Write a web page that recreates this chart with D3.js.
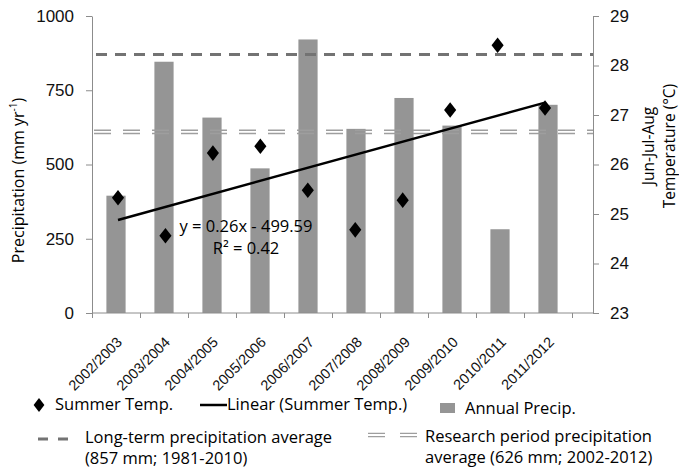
<!DOCTYPE html>
<html>
<head>
<meta charset="utf-8">
<script src="https://cdn.jsdelivr.net/npm/d3@7"></script>
<style>
  body { margin: 0; background: #fff; }
  svg { font-family: "Open Sans", Lato, sans-serif; }
  .axis path, .axis line { stroke: #8c8c8c; }
  .axis text { fill: #111; }
</style>
</head>
<body>
<div id="chart"></div>
<script>
// seasons on the category axis
const seasons = ["2002/2003", "2003/2004", "2004/2005", "2005/2006", "2006/2007",
  "2007/2008", "2008/2009", "2009/2010", "2010/2011", "2011/2012"];
// annual precipitation, mm (bars)
const annualPrecip = [395, 846, 658, 487, 921, 620, 724, 631, 282, 701];
// Jun-Jul-Aug mean temperature, °C (diamonds)
const summerTemp = [25.33, 24.56, 26.23, 26.37, 25.48, 24.68, 25.28, 27.10, 28.41, 27.14];
// linear trend end points as drawn (first and last season)
const trendTemp = [24.88, 27.25];
// reference lines, mm (as drawn)
const longTermAvg = 870;
const researchAvg = 610;
const precipTicks = [0, 250, 500, 750, 1000];
const tempTicks = [23, 24, 25, 26, 27, 28, 29];

const width = 679, height = 471;
const margin = { top: 16, left: 92, bottom: 158 };
const plotRight = 593;   // secondary axis position
const catRight = 572;    // end of category axis
const plotBottom = height - margin.bottom; // 313

const svg = d3.select("#chart").append("svg")
  .attr("width", width)
  .attr("height", height);

// scales
const x = d3.scaleBand()
  .domain(seasons)
  .range([margin.left, catRight])
  .paddingInner(0.6)
  .paddingOuter(0.3);

const xEdge = d3.scaleLinear()
  .domain([0, seasons.length])
  .range([margin.left, catRight]);

const yP = d3.scaleLinear().domain([0, 1000]).range([plotBottom, margin.top]);
const yT = d3.scaleLinear().domain([23, 29]).range([plotBottom, margin.top]);

const cx = d => x(d) + x.bandwidth() / 2;

// bars
svg.append("g")
  .selectAll("rect")
  .data(seasons)
  .join("rect")
  .attr("x", d => x(d))
  .attr("width", x.bandwidth())
  .attr("y", (d, i) => yP(annualPrecip[i]))
  .attr("height", (d, i) => plotBottom - yP(annualPrecip[i]))
  .attr("fill", "#959595");

// long-term average (dashed)
svg.append("line")
  .attr("x1", margin.left).attr("x2", plotRight)
  .attr("y1", yP(longTermAvg)).attr("y2", yP(longTermAvg))
  .attr("stroke", "#737373")
  .attr("stroke-width", 3)
  .attr("stroke-dasharray", "11,8")
  .attr("stroke-dashoffset", -4);

// research period average (double dashed)
[-1.6, 1.6].forEach(off => {
  svg.append("line")
    .attr("x1", margin.left).attr("x2", plotRight)
    .attr("y1", yP(researchAvg) + off).attr("y2", yP(researchAvg) + off)
    .attr("stroke", "#9e9e9e")
    .attr("stroke-width", 1.4)
    .attr("stroke-dasharray", "17,12")
    .attr("stroke-dashoffset", -2);
});

// axes
const leftAxis = svg.append("g")
  .attr("class", "axis")
  .attr("transform", `translate(${margin.left},0)`)
  .call(d3.axisLeft(yP).tickValues(precipTicks).tickFormat(d3.format("d"))
    .tickSize(6).tickPadding(12).tickSizeOuter(0));
leftAxis.selectAll("text").style("font-size", "17px");

const rightAxis = svg.append("g")
  .attr("class", "axis")
  .attr("transform", `translate(${plotRight},0)`)
  .call(d3.axisRight(yT).tickValues(tempTicks).tickFormat(d3.format("d"))
    .tickSize(6).tickPadding(11).tickSizeOuter(0));
rightAxis.selectAll("text").style("font-size", "17px");

// bottom axis line across the whole plot
svg.append("line")
  .attr("x1", margin.left).attr("x2", plotRight)
  .attr("y1", plotBottom).attr("y2", plotBottom)
  .attr("stroke", "#8c8c8c");

// category boundary ticks
svg.append("g")
  .attr("class", "axis")
  .attr("transform", `translate(0,${plotBottom})`)
  .call(d3.axisBottom(xEdge).tickValues(d3.range(seasons.length + 1)).tickSize(5).tickFormat("").tickSizeOuter(0))
  .select(".domain").remove();

// category labels
const xAxis = svg.append("g")
  .attr("class", "axis")
  .attr("transform", `translate(0,${plotBottom})`)
  .call(d3.axisBottom(x).tickSize(0).tickPadding(0));
xAxis.select(".domain").remove();
xAxis.selectAll("text")
  .style("font-size", "14.5px")
  .attr("text-anchor", "end")
  .attr("y", 0)
  .attr("dy", 0)
  .attr("transform", "translate(7,30) rotate(-45)");

// trend line
const first = seasons[0], last = seasons[seasons.length - 1];
svg.append("line")
  .attr("x1", cx(first) + 2).attr("y1", yT(trendTemp[0]))
  .attr("x2", cx(last) - 3).attr("y2", yT(trendTemp[1]))
  .attr("stroke", "#000")
  .attr("stroke-width", 2.5);

// diamonds
const diamond = d3.symbol().type(d3.symbolDiamond).size(70);
svg.append("g")
  .selectAll("path")
  .data(seasons)
  .join("path")
  .attr("d", diamond)
  .attr("transform", (d, i) => `translate(${cx(d) + 2 - i * 0.55},${yT(summerTemp[i])}) scale(1.35,1)`)
  .attr("fill", "#000");

// trend equation
svg.append("text")
  .attr("x", 246).attr("y", 232)
  .attr("text-anchor", "middle")
  .style("font-size", "16.5px")
  .text("y = 0.26x - 499.59");
svg.append("text")
  .attr("x", 246).attr("y", 254)
  .attr("text-anchor", "middle")
  .style("font-size", "16.5px")
  .text("R² = 0.42");

// axis titles
svg.append("text")
  .attr("transform", `translate(24,${(margin.top + plotBottom) / 2 + 16}) rotate(-90)`)
  .attr("text-anchor", "middle")
  .style("font-size", "16px")
  .html("Precipitation (mm yr<tspan baseline-shift='super' font-size='10px'>-1</tspan>)");

const rt = svg.append("text")
  .attr("transform", `translate(654,146) rotate(-90)`)
  .attr("text-anchor", "middle")
  .style("font-size", "15.5px");
rt.append("tspan").attr("x", 0).attr("dy", 0).text("Jun-Jul-Aug");
rt.append("tspan").attr("x", 0).attr("dy", 21).text("Temperature (°C)");

// legend
const leg = svg.append("g").style("font-size", "16.5px");
leg.append("path")
  .attr("d", diamond)
  .attr("transform", "translate(39,405) scale(1.2,0.9)");
leg.append("text").attr("x", 55).attr("y", 410).text("Summer Temp.");
leg.append("line")
  .attr("x1", 200).attr("x2", 227).attr("y1", 405).attr("y2", 405)
  .attr("stroke", "#000").attr("stroke-width", 2.5);
leg.append("text").attr("x", 227).attr("y", 410).text("Linear (Summer Temp.)");
leg.append("rect")
  .attr("x", 440).attr("y", 403).attr("width", 15).attr("height", 10)
  .attr("fill", "#959595");
leg.append("text").attr("x", 465).attr("y", 414).text("Annual Precip.");

leg.append("line")
  .attr("x1", 38).attr("x2", 68).attr("y1", 439).attr("y2", 439)
  .attr("stroke", "#737373").attr("stroke-width", 3)
  .attr("stroke-dasharray", "10,10");
const lt = leg.append("text").attr("x", 85).attr("y", 443);
lt.append("tspan").attr("x", 85).text("Long-term precipitation average");
lt.append("tspan").attr("x", 85).attr("dy", 21).text("(857 mm; 1981-2010)");

[-1.6, 1.6].forEach(off => {
  leg.append("line")
    .attr("x1", 368).attr("x2", 417).attr("y1", 435 + off).attr("y2", 435 + off)
    .attr("stroke", "#9e9e9e").attr("stroke-width", 1.4)
    .attr("stroke-dasharray", "17,15");
});
const rp = leg.append("text").attr("x", 425).attr("y", 442);
rp.append("tspan").attr("x", 425).text("Research period precipitation");
rp.append("tspan").attr("x", 425).attr("dy", 21).text("average (626 mm; 2002-2012)");
</script>
</body>
</html>
